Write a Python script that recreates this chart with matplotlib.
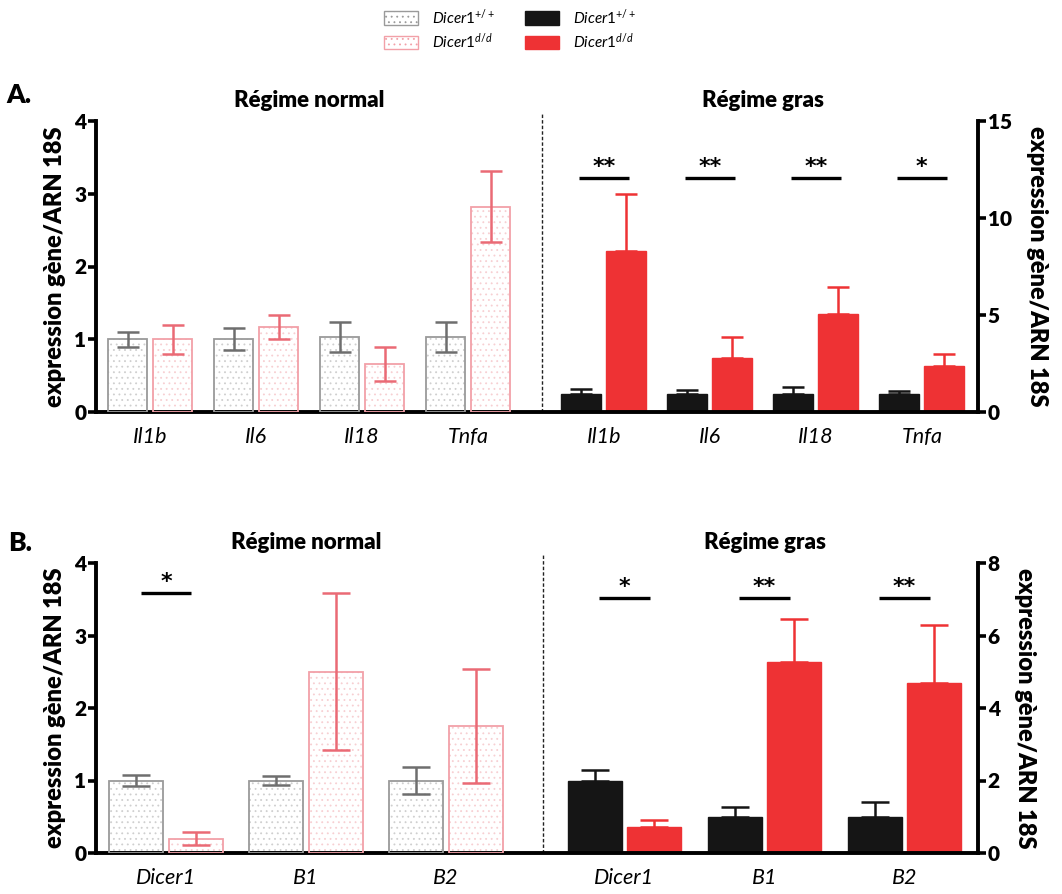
import matplotlib
matplotlib.use("Agg")
import matplotlib.pyplot as plt
from matplotlib.patches import Patch
from matplotlib.transforms import blended_transform_factory
import numpy as np

plt.rcParams['font.family'] = ['Lato', 'DejaVu Sans']
plt.rcParams['mathtext.fontset'] = 'custom'
plt.rcParams['mathtext.rm'] = 'Lato'
plt.rcParams['mathtext.it'] = 'Lato:italic'
plt.rcParams['hatch.linewidth'] = 0.6

# ---------------- data ----------------
genes_A = ['Il1b', 'Il6', 'Il18', 'Tnfa']
A_norm_wt = [1.00, 1.00, 1.03, 1.03]
A_norm_wt_err = [0.10, 0.15, 0.21, 0.21]
A_norm_ko = [1.00, 1.17, 0.66, 2.82]
A_norm_ko_err = [0.20, 0.17, 0.23, 0.49]
A_fat_wt = [0.95, 0.95, 0.95, 0.95]
A_fat_wt_err = [0.23, 0.18, 0.32, 0.14]
A_fat_ko = [8.32, 2.77, 5.03, 2.38]
A_fat_ko_err = [2.90, 1.08, 1.39, 0.62]
A_fat_sig = ['**', '**', '**', '*']

genes_B = ['Dicer1', 'B1', 'B2']
B_norm_wt = [1.00, 1.00, 1.00]
B_norm_wt_err = [0.08, 0.06, 0.18]
B_norm_ko = [0.20, 2.50, 1.75]
B_norm_ko_err = [0.09, 1.08, 0.79]
B_norm_sig = ['*', '', '']
B_fat_wt = [2.00, 0.99, 0.98]
B_fat_wt_err = [0.28, 0.27, 0.42]
B_fat_ko = [0.71, 5.28, 4.70]
B_fat_ko_err = [0.21, 1.18, 1.60]
B_fat_sig = ['*', '**', '**']

left_ticks = [0, 1, 2, 3, 4]
right_ticks_A = [0, 5, 10, 15]
right_ticks_B = [0, 2, 4, 6, 8]
ylabel = 'expression gène/ARN 18S'
title_norm = 'Régime normal'
title_fat = 'Régime gras'

# ---------------- styles ----------------
GRAY_EDGE = '#9a9a9a'
GRAY_HATCH = '#cfcfcf'
GRAY_ERR = '#6e6e6e'
PINK_EDGE = '#f2a0a8'
PINK_HATCH = '#f7cfd2'
PINK_ERR = '#ea6a75'
BLACK = '#151515'
RED = '#ee3234'

W, H = 1062, 894
fig = plt.figure(figsize=(W / 100, H / 100), dpi=100)


def px_axes(x0, x1, ytop, ybot):
    return fig.add_axes([x0 / W, 1 - ybot / H, (x1 - x0) / W, (ybot - ytop) / H])


def hatched_bars(ax, x, vals, edge, hatch_col, width):
    ax.bar(x, vals, width=width, color='white', edgecolor=hatch_col,
           hatch='...', linewidth=0, zorder=2)
    ax.bar(x, vals, width=width, fill=False, edgecolor=edge,
           linewidth=1.3, zorder=3)


def draw_panel(ax, genes, n_wt, n_wt_e, n_ko, n_ko_e, f_wt, f_wt_e, f_ko, f_ko_e,
               n_sig, f_sig, gap, xl, xr, dash_x, rmax, rticks, capsize, width, off,
               sig_y_l, sig_y_r, sig_half):
    n = len(genes)
    xn = np.arange(n)
    xf = np.arange(n) + gap
    ax2 = ax.twinx()
    ax.set_zorder(ax2.get_zorder() + 1)
    ax.patch.set_visible(False)

    # normal regime (left axis)
    hatched_bars(ax, xn - off, n_wt, GRAY_EDGE, GRAY_HATCH, width)
    hatched_bars(ax, xn + off, n_ko, PINK_EDGE, PINK_HATCH, width)
    ax.errorbar(xn - off, n_wt, yerr=n_wt_e, fmt='none', ecolor=GRAY_ERR,
                elinewidth=1.8, capsize=capsize, capthick=1.8, zorder=4)
    ax.errorbar(xn + off, n_ko, yerr=n_ko_e, fmt='none', ecolor=PINK_ERR,
                elinewidth=1.8, capsize=capsize, capthick=1.8, zorder=4)

    # fat regime (right axis)
    ax2.bar(xf - off, f_wt, width=width, color=BLACK, edgecolor=BLACK, zorder=3)
    ax2.bar(xf + off, f_ko, width=width, color=RED, edgecolor=RED, zorder=3)
    ax2.errorbar(xf - off, f_wt, yerr=[np.zeros(n), f_wt_e], fmt='none',
                 ecolor=BLACK, elinewidth=1.8, capsize=capsize, capthick=1.8, zorder=2)
    ax2.errorbar(xf + off, f_ko, yerr=[np.zeros(n), f_ko_e], fmt='none',
                 ecolor=RED, elinewidth=1.8, capsize=capsize, capthick=1.8, zorder=2)

    # significance
    for xi, s in zip(xn, n_sig):
        if s:
            ax.plot([xi - sig_half, xi + sig_half], [sig_y_l, sig_y_l], color='black',
                    lw=2.4, solid_capstyle='butt', zorder=5)
            ax.text(xi, sig_y_l * 1.005, s, ha='center', va='bottom',
                    fontsize=16, fontweight='bold', family='DejaVu Sans')
    for xi, s in zip(xf, f_sig):
        if s:
            ax2.plot([xi - sig_half, xi + sig_half], [sig_y_r, sig_y_r], color='black',
                     lw=2.4, solid_capstyle='butt', zorder=5)
            ax2.text(xi, sig_y_r * 1.005, s, ha='center', va='bottom',
                     fontsize=16, fontweight='bold', family='DejaVu Sans')

    ax.set_xlim(xl, xr)
    ax.set_ylim(0, 4)
    ax2.set_ylim(0, rmax)
    ax.set_yticks(left_ticks)
    ax2.set_yticks(rticks)
    ax.set_xticks(np.concatenate([xn, xf]))
    ax.set_xticklabels(list(genes) * 2, fontstyle='italic', fontsize=15.5)
    ax.tick_params(axis='x', length=0, pad=11)
    for a in (ax, ax2):
        a.tick_params(axis='y', length=6, width=2.6, labelsize=15, pad=1)
        for lab in a.get_yticklabels():
            lab.set_fontweight('heavy')
    for s in ('top', 'right'):
        ax.spines[s].set_visible(False)
    for s in ('top', 'left', 'bottom'):
        ax2.spines[s].set_visible(False)
    ax.spines['left'].set_linewidth(2.8)
    ax.spines['bottom'].set_linewidth(2.8)
    ax2.spines['right'].set_linewidth(2.8)

    ax.set_ylabel(ylabel, fontsize=17, fontweight='heavy', labelpad=6)
    ax2.set_ylabel(ylabel, fontsize=17, fontweight='heavy', rotation=-90,
                   labelpad=26)

    # dashed separator
    trans = blended_transform_factory(ax.transData, ax.transAxes)
    ax.plot([dash_x, dash_x], [0, 1.03], transform=trans, color='#222222',
            lw=1.0, ls=(0, (2.5, 1.5)), clip_on=False, zorder=1)

    # titles
    ax.text(xn.mean(), 1.035, title_norm, transform=trans, ha='center',
            va='bottom', fontsize=16, fontweight='heavy')
    ax.text(xf.mean(), 1.035, title_fat, transform=trans, ha='center',
            va='bottom', fontsize=16, fontweight='heavy')
    return ax2


axA = px_axes(96, 978, 121, 412)
draw_panel(axA, genes_A, A_norm_wt, A_norm_wt_err, A_norm_ko, A_norm_ko_err,
           A_fat_wt, A_fat_wt_err, A_fat_ko, A_fat_ko_err,
           ['', '', '', ''], A_fat_sig, gap=4.28, xl=-0.51, xr=7.81, dash_x=3.70,
           rmax=15, rticks=right_ticks_A, capsize=8, width=0.375, off=0.212,
           sig_y_l=3.6, sig_y_r=12.05, sig_half=0.235)

axB = px_axes(96, 978, 563, 853)
draw_panel(axB, genes_B, B_norm_wt, B_norm_wt_err, B_norm_ko, B_norm_ko_err,
           B_fat_wt, B_fat_wt_err, B_fat_ko, B_fat_ko_err,
           B_norm_sig, B_fat_sig, gap=3.275, xl=-0.5, xr=5.80, dash_x=2.69,
           rmax=8, rticks=right_ticks_B, capsize=10, width=0.385, off=0.213,
           sig_y_l=3.58, sig_y_r=7.04, sig_half=0.18)

fig.text(6 / W, 1 - 95 / H, 'A.', fontsize=19, fontweight='heavy', va='center')
fig.text(8 / W, 1 - 543 / H, 'B.', fontsize=19, fontweight='heavy', va='center')

# legend
handles = [
    Patch(facecolor='white', edgecolor=GRAY_EDGE, hatch='...', lw=1.0),
    Patch(facecolor='white', edgecolor=PINK_EDGE, hatch='...', lw=1.0),
    Patch(facecolor=BLACK, edgecolor=BLACK),
    Patch(facecolor=RED, edgecolor=RED),
]
labels = [r'$\mathit{Dicer1}^{+/+}$', r'$\mathit{Dicer1}^{d/d}$',
          r'$\mathit{Dicer1}^{+/+}$', r'$\mathit{Dicer1}^{d/d}$']
fig.legend(handles, labels, ncol=2, loc='center', bbox_to_anchor=(510 / W, 1 - 29 / H),
           frameon=False, fontsize=11, handlelength=2.2, handleheight=1.0,
           columnspacing=2.0, labelspacing=0.3, handletextpad=0.9)

fig.savefig('out.png', dpi=100)
